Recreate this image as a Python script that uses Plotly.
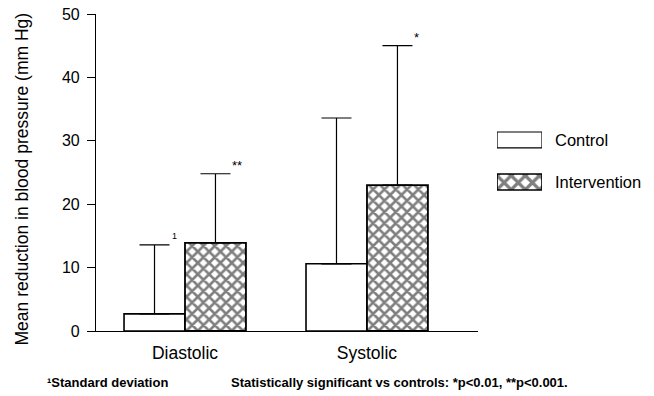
import plotly.graph_objects as go

categories = ["Diastolic", "Systolic"]
control_mean = [2.7, 10.6]
control_sd = [10.9, 23.0]
intervention_mean = [13.9, 23.0]
intervention_sd = [10.9, 22.0]
y_ticks = [0, 10, 20, 30, 40, 50]
legend_labels = ["Intervention", "Control"]
sig_marks = ["", "**", "", "*"]  # per bar: D-control, D-interv, S-control, S-interv

FONT = "Liberation Sans, Arial, sans-serif"
xpos = list(range(len(categories)))

fig = go.Figure()
fig.add_trace(go.Bar(
    x=xpos, y=control_mean, name="Control",
    marker=dict(color="white", line=dict(color="black", width=1.6)),
    error_y=dict(type="data", symmetric=False, array=control_sd,
                 arrayminus=[0] * len(control_sd), color="black",
                 thickness=1.2, width=15),
    showlegend=False,
))
fig.add_trace(go.Bar(
    x=xpos, y=intervention_mean, name="Intervention",
    marker=dict(color="white", line=dict(color="black", width=1.8),
                pattern=dict(shape="x", fgcolor="black", bgcolor="white",
                             size=8, solidity=0.55)),
    error_y=dict(type="data", symmetric=False, array=intervention_sd,
                 arrayminus=[0] * len(intervention_sd), color="black",
                 thickness=1.2, width=15),
    showlegend=False,
))

# legend boxes as a small separate axes
fig.add_trace(go.Bar(
    x=[1], y=[1], orientation="h", width=0.38, xaxis="x2", yaxis="y2",
    marker=dict(color="white", line=dict(color="black", width=1.2)),
    showlegend=False, hoverinfo="skip",
))
fig.add_trace(go.Bar(
    x=[1], y=[0], orientation="h", width=0.38, xaxis="x2", yaxis="y2",
    marker=dict(color="white", line=dict(color="black", width=1.6),
                pattern=dict(shape="x", fgcolor="black", bgcolor="white",
                             size=10, solidity=0.55)),
    showlegend=False, hoverinfo="skip",
))

half = (1 - 0.33) / 4
annotations = []
# SD footnote marker on diastolic control
annotations.append(dict(x=xpos[0] - half, y=control_mean[0] + control_sd[0],
                        text="1", showarrow=False, xanchor="left", yanchor="bottom",
                        xshift=15, yshift=2, font=dict(size=9, color="black", family=FONT)))
for i in range(len(categories)):
    for j, (m, s) in enumerate([(control_mean, control_sd), (intervention_mean, intervention_sd)]):
        mark = sig_marks[2 * i + j]
        if mark:
            cx = xpos[i] + (-half if j == 0 else half)
            annotations.append(dict(x=cx, y=m[i] + s[i], text=mark, showarrow=False,
                                    xanchor="left", yanchor="bottom", xshift=15, yshift=-1,
                                    font=dict(size=13, color="black", family=FONT)))

annotations.append(dict(xref="paper", yref="paper", x=-0.0948, y=-0.164,
                        text="¹Standard deviation", showarrow=False,
                        xanchor="left", yanchor="middle",
                        font=dict(size=13, color="black", family=FONT, weight="bold")))
annotations.append(dict(xref="paper", yref="paper", x=0.2472, y=-0.164,
                        text="Statistically significant vs controls: *p<0.01, **p<0.001.",
                        showarrow=False, xanchor="left", yanchor="middle",
                        font=dict(size=13, color="black", family=FONT, weight="bold")))
# y-axis title
annotations.append(dict(xref="paper", yref="paper", x=-0.1375, y=0.478,
                        text="Mean reduction in blood pressure (mm Hg)", textangle=-90,
                        showarrow=False, xanchor="center", yanchor="middle",
                        font=dict(size=17.5, color="black", family=FONT)))

fig.update_layout(
    width=654, height=396, autosize=False,
    margin=dict(l=96, r=20, t=14, b=65),
    paper_bgcolor="white", plot_bgcolor="white",
    barmode="group", bargap=0.33, bargroupgap=0,
    font=dict(family=FONT, color="black", size=16),
    xaxis=dict(domain=[0, 0.7100], range=[-0.489, 1.61], automargin=False,
               tickvals=xpos, ticktext=categories, ticks="",
               showline=True, linecolor="black", linewidth=1.2,
               showgrid=False, zeroline=False, tickfont=dict(size=17.5),
               ticklabelstandoff=6),
    yaxis=dict(range=[0, 50], tickvals=y_ticks, ticks="outside", ticklen=8,
               tickwidth=1.2, tickcolor="black", automargin=False,
               showline=True, linecolor="black", linewidth=1.2,
               showgrid=False, zeroline=False, tickfont=dict(size=16),
               ticklabelstandoff=4),
    xaxis2=dict(domain=[0.7454, 0.8290], range=[0, 1], visible=False, anchor="y2"),
    yaxis2=dict(domain=[0.4038, 0.6688], range=[-0.5, 1.5], anchor="x2", side="right",
                tickvals=[0, 1], ticktext=legend_labels, ticks="", showline=False,
                showgrid=False, zeroline=False, ticklabelstandoff=12, automargin=False,
                tickfont=dict(size=16.5)),
    annotations=annotations,
)

fig.write_html("out.html", config={"displayModeBar": False},
               post_script="document.body.style.margin='0';document.body.style.overflow='hidden';")
